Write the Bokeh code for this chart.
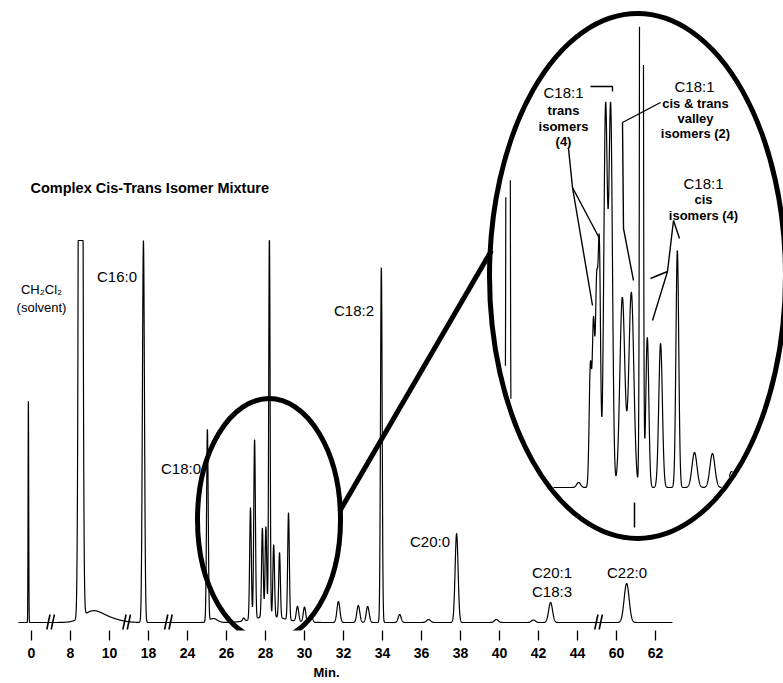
import numpy as np
from bokeh.plotting import figure
from bokeh.models import Range1d, FixedTicker, ColumnDataSource, Title
from bokeh.core.properties import value
from bokeh.embed import file_html
from bokeh.resources import INLINE

# ======================= DATA =======================
# broken time axis (min): one tick per axis position
tick_labels = ["0", "8", "10", "18", "24", "26", "28", "30", "32", "34",
               "36", "38", "40", "42", "44", "60", "62"]
# positions of the axis breaks (axis units)
break_positions = [0.49, 2.44, 3.51, 14.54]

# main chromatogram: peak position (axis units), height (response), sigma (axis units)
main_peak_pos = [-0.08, 1.26, 1.55, 1.95, 2.87, 4.51, 4.66, 5.44, 5.615, 5.72,
                 5.92, 6.01, 6.10, 6.21, 6.36, 6.59, 6.10, 6.82, 7.00, 7.18,
                 7.87, 8.38, 8.62, 8.97, 9.44, 10.18, 10.90, 11.92, 12.87,
                 13.31, 15.26]
main_peak_height = [222, 2000, 10, 4, 382, 192, 4, 3, 112, 179,
                    89, 90, 382, 72, 65, 107, 6, 15, 15, 6,
                    21, 17, 16, 355, 8, 3, 89, 3, 2.5,
                    20, 39]
main_peak_sigma = [0.008, 0.035, 0.25, 0.30, 0.026, 0.021, 0.10, 0.026, 0.021, 0.021,
                   0.021, 0.021, 0.018, 0.021, 0.021, 0.021, 0.40, 0.031, 0.031, 0.031,
                   0.038, 0.038, 0.038, 0.021, 0.038, 0.05, 0.038, 0.05, 0.05,
                   0.05, 0.064]
detector_full_scale = 382

# expanded view (inset) of the C18:1 region: position, height above inset baseline, sigma
inset_peak_pos = [12.22, 14.03, 14.33, 14.41, 14.49, 14.56, 14.72, 14.85,
                  15.15, 15.38, 15.64, 15.79, 16.13, 16.56, 17.00, 17.46, 17.95]
inset_peak_height = [3000, 5, 120, 160, 190, 235, 378, 378,
                     190, 195, 3000, 150, 144, 237, 35, 34, 16]
inset_peak_sigma = [0.027, 0.051, 0.031, 0.031, 0.031, 0.031, 0.046, 0.046,
                    0.064, 0.064, 0.026, 0.038, 0.046, 0.036, 0.064, 0.064, 0.064]

# ======================= LAYOUT =======================
W, H = 783, 683
FRAME_BOTTOM = 630             # pixel row of the plot frame bottom
PX = 39.0                      # pixels per axis unit


def ax(px):                    # reference-pixel x -> axis units
    return (px - 31.0) / PX


def ay(py):                    # reference-pixel y -> response units
    return 622.0 - py


FONT = "Liberation Sans"

p = figure(width=W, height=H, output_backend="svg", toolbar_location=None,
           x_range=Range1d(ax(0), ax(W)), y_range=Range1d(ay(FRAME_BOTTOM), ay(0)),
           min_border_left=0, min_border_right=0, min_border_top=0,
           min_border_bottom=H - FRAME_BOTTOM)
p.outline_line_color = None
p.xgrid.visible = False
p.ygrid.visible = False
p.yaxis.visible = False
p.background_fill_color = "white"
p.border_fill_color = "white"

xa = p.xaxis[0]
xa.ticker = FixedTicker(ticks=list(range(len(tick_labels))))
xa.major_label_overrides = {i: t for i, t in enumerate(tick_labels)}
xa.axis_line_color = None
xa.major_tick_in = 0
xa.major_tick_out = 10
xa.major_tick_line_width = 1.3
xa.minor_tick_line_color = None
xa.major_label_standoff = 7
xa.major_label_text_font = FONT
xa.major_label_text_font_style = "bold"
xa.major_label_text_font_size = "14px"
xa.major_label_text_color = "black"

p.add_layout(Title(text="Min.", align="left", offset=313, standoff=5,
                   text_font=FONT, text_font_style="bold", text_font_size="13px",
                   text_color="black"), "below")

# ---- main trace ----
xs = np.arange(ax(18), ax(672), 0.002)
ys = np.zeros_like(xs)
for pos, h, s in zip(main_peak_pos, main_peak_height, main_peak_sigma):
    ys += h * np.exp(-0.5 * ((xs - pos) / s) ** 2)
ys = np.minimum(ys, detector_full_scale)
p.line(xs, ys, line_color="black", line_width=1.2)

# ---- axis breaks (//) ----
bx = np.array(break_positions)
for off in (-2.2, 2.2):
    p.segment(x0=bx + (off - 1.6) / PX, y0=np.full(len(bx), -7.0),
              x1=bx + (off + 1.6) / PX, y1=np.full(len(bx), 8.0),
              line_color="black", line_width=1.6)

# ---- magnifier ellipses ----
small_c = (ax(268.5), ay(519)); small_w, small_h = 143 / PX, 242
big_c = (ax(637), ay(275.5)); big_w, big_h = 296 / PX, 525
p.ellipse(x=[small_c[0]], y=[small_c[1]], width=[small_w], height=[small_h],
          fill_color=None, line_color="black", line_width=5)
p.ellipse(x=[big_c[0]], y=[big_c[1]], width=[big_w], height=[big_h],
          fill_color=None, line_color="black", line_width=5)
p.line([ax(339), ax(491)], [ay(511), ay(250)], line_color="black", line_width=5)

# ---- inset trace, clipped to the big ellipse ----
inset_base = ay(487)
xi = np.arange(ax(500), ax(745), 0.002)
yi = np.full_like(xi, inset_base)
for pos, h, s in zip(inset_peak_pos, inset_peak_height, inset_peak_sigma):
    yi += h * np.exp(-0.5 * ((xi - pos) / s) ** 2)
a_in = big_w / 2 - 3.0 / PX
b_in = big_h / 2 - 3.0
inside = ((xi - big_c[0]) / a_in) ** 2 + ((yi - big_c[1]) / b_in) ** 2 <= 1.0
yi = np.where(inside, yi, np.nan)
p.line(xi, yi, line_color="black", line_width=1.2)

# small marker under the inset
p.segment(x0=[ax(634)], y0=[ay(502)], x1=[ax(634)], y1=[ay(527)],
          line_color="black", line_width=1.5)

# ---- leader lines inside inset ----
leaders = [
    [(568, 148), (572, 187)],
    [(572, 187), (599, 238)],
    [(572, 187), (592, 305)],
    [(590, 86), (612, 86), (612, 91)],
    [(660, 102), (622, 122), (623, 228), (633, 280)],
    [(673, 220), (679, 238)],
    [(673, 220), (667, 271), (652, 320)],
    [(667, 271), (650, 278)],
]
for pts in leaders:
    p.line([ax(q[0]) for q in pts], [ay(q[1]) for q in pts],
           line_color="black", line_width=1.4)


# ---- texts ----
def add_text(items, size, style="normal", align="center"):
    src = ColumnDataSource(dict(x=[ax(t[1]) for t in items],
                                y=[ay(t[2]) for t in items],
                                text=[t[0] for t in items]))
    p.text(x="x", y="y", text="text", source=src, text_font=value(FONT),
           text_font_size=size, text_font_style=style, text_align=align,
           text_baseline="middle", text_color="black")


add_text([("Complex Cis-Trans Isomer Mixture", 30, 187)], "14.5px", "bold", "left")
add_text([("CH₂Cl₂", 41, 289), ("(solvent)", 41, 307)], "13px")
add_text([("C16:0", 116.5, 276), ("C18:0", 180.5, 468), ("C18:2", 353.5, 310),
          ("C20:0", 429.5, 541), ("C20:1", 551.5, 572), ("C18:3", 551.5, 591),
          ("C22:0", 626.5, 572),
          ("C18:1", 563, 92), ("C18:1", 694, 86), ("C18:1", 703, 183)], "15px")
add_text([("trans", 563, 110), ("isomers", 563, 126), ("(4)", 563, 141),
          ("cis & trans", 695, 103), ("valley", 695, 118), ("isomers (2)", 695, 133),
          ("cis", 703, 199), ("isomers (4)", 703, 215)], "13px", "bold")

open("out.html", "w").write(file_html(p, INLINE))
